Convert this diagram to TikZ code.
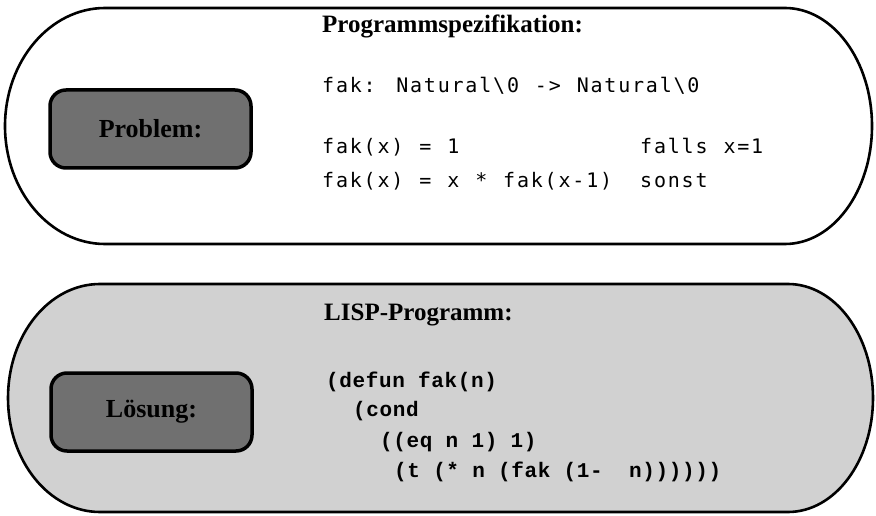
\documentclass[tikz,border=0pt]{standalone}
\usepackage{fontspec}
\setmainfont{Liberation Serif}
\newfontfamily\specmono[LetterSpace=9,WordSpace=1.15]{DejaVu Sans Mono}
\newfontfamily\lispmono[LetterSpace=3]{Liberation Mono}
\usetikzlibrary{positioning}
\tikzset{
  frame/.style ={line width=2.6pt,line join=round},
  tag/.style   ={draw,line width=3.5pt,rounded corners=16pt,fill=black!56,
                 minimum width=201pt,minimum height=78pt,
                 font=\fontsize{26}{30}\selectfont\bfseries},
  head/.style  ={anchor=base west,inner sep=0pt,font=\fontsize{25}{30}\selectfont\bfseries},
  spec/.style  ={anchor=base west,inner sep=0pt,font=\fontsize{20}{24}\selectfont\specmono},
  lisp/.style  ={anchor=base west,inner sep=0pt,font=\fontsize{21}{24}\selectfont\lispmono\bfseries},
}

\begin{document}
\begin{tikzpicture}[x=1pt,y=-1pt]
  \useasboundingbox (0,0) rectangle (876,516);
  % problem part
  \draw[frame,fill=white] (105,8) -- (785,8)
    .. controls (833,8) and (872,61) .. (872,126)
    .. controls (872,191) and (833,244) .. (785,244) -- (105,244)
    .. controls (50,244) and (5,191) .. (5,126)
    .. controls (5,61) and (50,8) .. (105,8) -- cycle;
  \node[tag] (problem) at (150.5,129) {Problem:};
  \node[head] (spectitle) at (322,33) {Programmspezifikation:};
  \node[spec] (sig) at (322,93) {fak: Natural\textbackslash0 -> Natural\textbackslash0};
  \node[spec] (base) at (322,154) {fak(x) = 1};
  \node[spec] (step) at (322,188) {fak(x) = x * fak(x-1)};
  \node[spec] (case1) at (640,154) {falls x=1};
  \node[spec] (case2) at (640,188) {sonst};
  % solution part
  \draw[frame,fill=black!18] (100,284) -- (788,284)
    .. controls (835,284) and (873,335) .. (873,398)
    .. controls (873,461) and (835,512) .. (788,512) -- (100,512)
    .. controls (49,512) and (8,461) .. (8,398)
    .. controls (8,335) and (49,284) .. (100,284) -- cycle;
  \node[tag] (solution) at (151.5,412) {Lösung:};
  \node[head] (lisptitle) at (324,320) {LISP-Programm:};
  \node[lisp] (l1) at (326,387) {(defun fak(n)};
  \node[lisp] (l2) at (353,416) {(cond};
  \node[lisp] (l3) at (380,447) {((eq n 1) 1)};
  \node[lisp] (l4) at (394,477) {(t (* n (fak (1-~~n))))))};
\end{tikzpicture}
\end{document}
